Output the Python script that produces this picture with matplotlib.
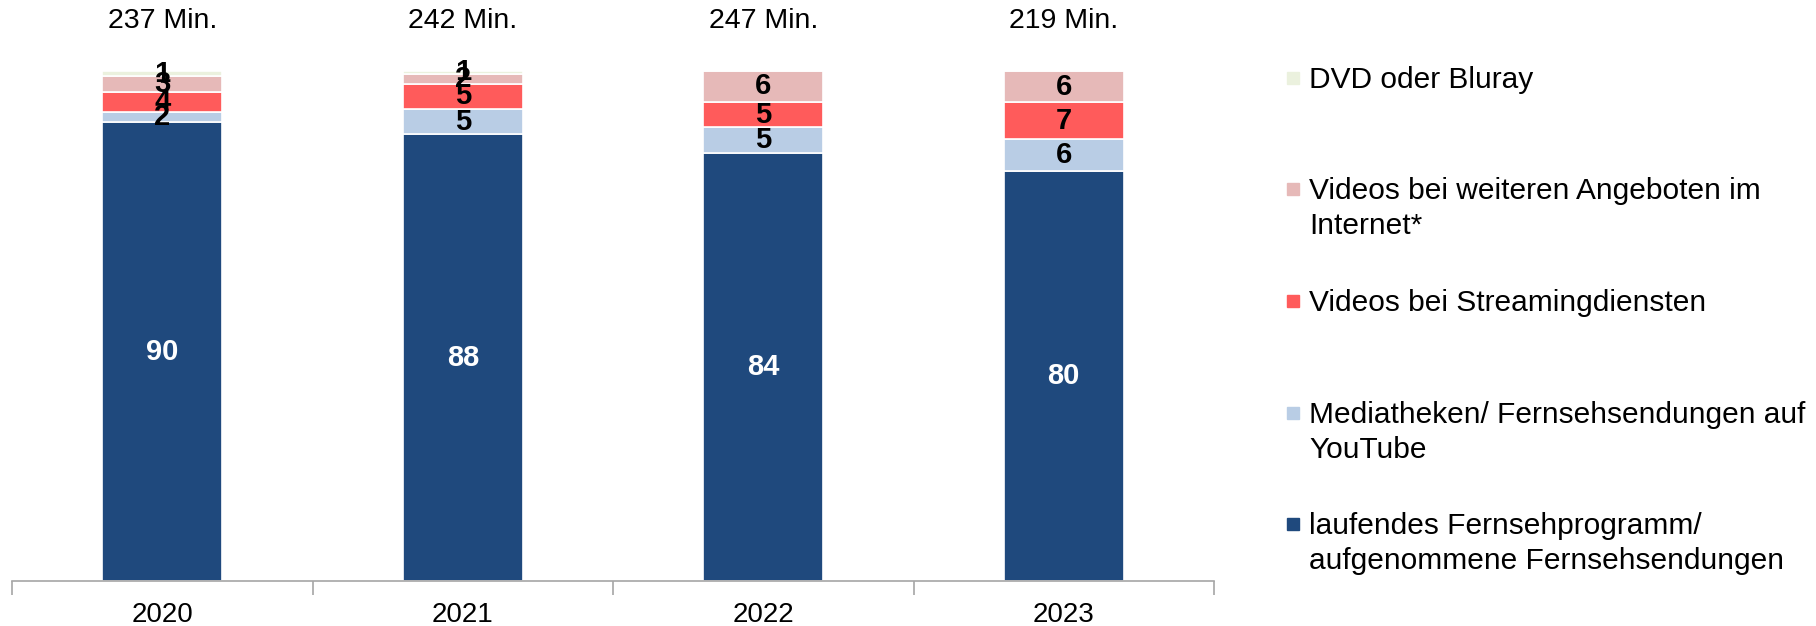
import matplotlib.pyplot as plt
import matplotlib.patches as mpatches
import numpy as np

plt.rcParams['font.family'] = ['Liberation Sans', 'DejaVu Sans']

years = ["2020", "2021", "2022", "2023"]
totals = ["237 Min.", "242 Min.", "247 Min.", "219 Min."]

# Anteile in %, von unten nach oben (Beschriftung gerundet)
series_names = [
    "laufendes Fernsehprogramm/\naufgenommene Fernsehsendungen",
    "Mediatheken/ Fernsehsendungen auf\nYouTube",
    "Videos bei Streamingdiensten",
    "Videos bei weiteren Angeboten im\nInternet*",
    "DVD oder Bluray",
]
fernsehen = [90, 87.6, 84, 80.4]
mediatheken = [2, 5, 5, 6.3]
streaming = [4, 4.9, 5, 7.2]
weitere = [3, 2, 6, 6.1]
dvd = [1, 0.6, 0, 0]

colors = ["#1F497D", "#B9CDE5", "#FF5B5B", "#E6B9B8", "#EBF1DE"]
label_colors = ["white", "black", "black", "black", "black"]

W, H = 1816, 626
fig = plt.figure(figsize=(W / 100, H / 100), dpi=100)
ax = fig.add_axes([12 / W, 45 / H, 1202 / W, 520 / H])

x = np.arange(len(years))
bottom = np.zeros(len(years))
for vals, name, col, lcol in zip([fernsehen, mediatheken, streaming, weitere, dvd],
                                 series_names, colors, label_colors):
    vals = np.array(vals, dtype=float)
    bars = ax.bar(x, vals, 0.4, bottom=bottom, color=col, edgecolor="white",
                  linewidth=1.2, label=name)
    labs = [str(round(v)) if v > 0 else "" for v in vals]
    ax.bar_label(bars, labels=labs, label_type="center", color=lcol,
                 fontsize=21, fontweight="bold")
    bottom += vals

for xi, t in zip(x, totals):
    ax.annotate(t, (xi, 100), xytext=(0, 36), textcoords="offset points",
                ha="center", va="center", fontsize=20.5, annotation_clip=False)

ax.set_xlim(-0.5, len(years) - 0.5)
ax.set_ylim(0, 102)
ax.set_yticks([])
for s in ["top", "right", "left"]:
    ax.spines[s].set_visible(False)
ax.spines["bottom"].set_color("#A6A6A6")
ax.spines["bottom"].set_linewidth(1.2)
ax.set_xticks(x)
ax.set_xticklabels(years, fontsize=20)
ax.tick_params(axis="x", which="major", length=0, pad=15)
ax.set_xticks(np.arange(-0.5, len(years)), minor=True)
ax.tick_params(axis="x", which="minor", length=10, color="#A6A6A6", width=1.2)

# Legende, oberster Eintrag zuerst; je Zeile eigener Text
baselines = [88, 199, 311, 423, 534]
line_gap = 35
for i, (name, col) in enumerate(zip(series_names[::-1], colors[::-1])):
    yb = baselines[i]
    for j, line in enumerate(name.split("\n")):
        fig.text(1309 / W, 1 - (yb + j * line_gap) / H, line, fontsize=21.5,
                 va="baseline", ha="left")
    fig.add_artist(mpatches.Rectangle((1287 / W, 1 - (yb - 4) / H), 12 / W, 12 / H,
                                      transform=fig.transFigure, color=col))

fig.savefig("out.png", dpi=100)
